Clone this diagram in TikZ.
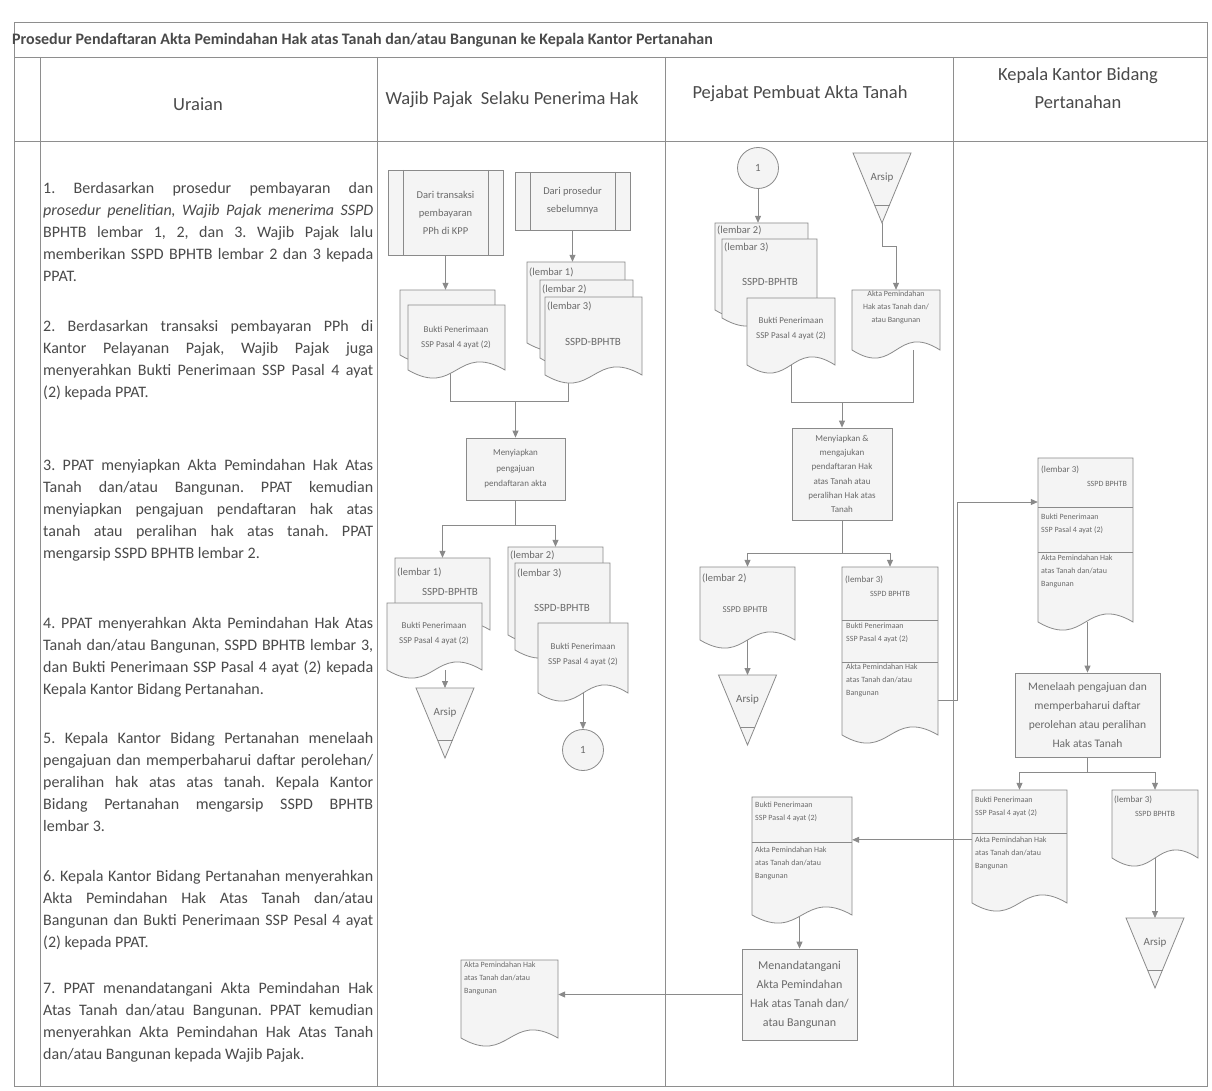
\documentclass[tikz,border=0pt]{standalone}
\usepackage{fontspec}
\setmainfont{Carlito}
\usetikzlibrary{arrows.meta,fit,calc}
\pgfdeclarelayer{bg}
\pgfsetlayers{bg,main}

\definecolor{ink}{HTML}{4A4A4A}
\definecolor{lite}{HTML}{6A6A6A}
\definecolor{edge}{HTML}{8A8A8A}
\definecolor{paper}{HTML}{F4F4F4}
\definecolor{rule}{HTML}{8E8E8E}

\tikzset{
  shp/.style={draw=edge, fill=paper, line width=0.8pt},
  ln/.style={draw=edge, line width=0.8pt},
  arr/.style={ln, -{Triangle[length=7pt,width=6pt]}},
  grid/.style={draw=rule, line width=0.9pt},
  proc/.style={shp, rectangle, inner sep=2pt, align=center, text=lite},
  predef/.style={proc, path picture={
      \draw[draw=edge, line width=0.8pt]
        ([xshift=15pt]path picture bounding box.north west) -- ([xshift=15pt]path picture bounding box.south west)
        ([xshift=-15pt]path picture bounding box.north east) -- ([xshift=-15pt]path picture bounding box.south east);}},
  conn/.style={shp, circle, minimum size=41pt, inner sep=0pt, text=lite, font=\fontsize{11}{13}\selectfont},
  para/.style={anchor=north west, inner sep=0pt, text width=330pt, align=justify, text=ink,
      font=\fontsize{16}{22}\selectfont\frenchspacing},
  head/.style={text=ink, inner sep=0pt, align=center, font=\fontsize{18.5}{28}\selectfont},
  small/.style={text=lite, inner sep=0pt, align=center, font=\fontsize{9}{15}\selectfont},
  mid/.style={text=lite, inner sep=0pt, font=\fontsize{11}{13}\selectfont},
  tiny/.style={text=lite, inner sep=0pt, align=left, font=\fontsize{8}{13}\selectfont},
  lab/.style={text=lite, inner sep=0pt, anchor=west, font=\fontsize{10.5}{12}\selectfont},
  slab/.style={lab, font=\fontsize{9}{11}\selectfont},
}

% document sheet with a wavy lower edge: name, x1, y1, x2, y(bottom)
\newcommand\docu[5]{%
  \filldraw[shp] (#2,#3) -- (#4,#3) -- (#4,#5)
    .. controls ({(#2+#4)/2},{#5-28}) and ({(#2+#4)/2},{#5+28}) .. (#2,#5) -- cycle;
  \coordinate (#1-nw) at (#2,#3);
  \coordinate (#1-se) at (#4,#5);
  \node[fit=(#1-nw)(#1-se), inner sep=0pt] (#1) {};
}
% divider line inside a sheet: sheet name, y
\newcommand\sect[2]{\draw[ln] (#1.west |- 0,#2) -- (#1.east |- 0,#2);}
% archive (off-line storage) triangle: name, centre x, top y
\newcommand\arsip[3]{%
  \filldraw[shp] ({#2-29},#3) -- ({#2+29},#3) -- (#2,{#3+70}) -- cycle;
  \draw[ln] ({#2-7.5},{#3+52}) -- ({#2+7.5},{#3+52});
  \coordinate (#1-top) at (#2,#3);
  \coordinate (#1-tip) at (#2,{#3+70});
  \node[mid] (#1) at (#2,{#3+25}) {Arsip};
}

\begin{document}
\begin{tikzpicture}[x=1pt,y=-1pt]
\useasboundingbox (0,0) rectangle (1212,1091);

% ---------- table frame ----------
\begin{pgfonlayer}{bg}
  \fill[white] (0,0) rectangle (1212,1091);
  \draw[grid] (14,22) rectangle (1207,1086);
  \draw[grid] (14,57) -- (1207,57);
  \draw[grid] (14,141) -- (1207,141);
  \draw[grid] (40,57) -- (40,1086);
  \foreach \cx in {377,665,953} \draw[grid] (\cx,57) -- (\cx,1086);
\end{pgfonlayer}

\node[anchor=west, inner sep=0pt, text=ink, font=\fontsize{16}{18}\selectfont\bfseries] (title) at (12,40)
  {Prosedur Pendaftaran Akta Pemindahan Hak atas Tanah dan/atau Bangunan ke Kepala Kantor Pertanahan};

\node[head] (h1) at (198,104) {Uraian};
\node[head] (h2) at (512,100) {Wajib Pajak\ \ Selaku Penerima Hak};
\node[head] (h3) at (800,94) {Pejabat Pembuat Akta Tanah};
\node[head] (h4) at (1078,88) {Kepala Kantor Bidang\\Pertanahan};

% ---------- description column ----------
\node[para] (u1) at (43,182) {1. Berdasarkan prosedur pembayaran dan\linebreak
  \textit{prosedur penelitian, Wajib Pajak menerima SSPD}\linebreak
  BPHTB lembar 1, 2, dan 3. Wajib Pajak lalu\linebreak
  memberikan SSPD BPHTB lembar 2 dan 3 kepada\linebreak PPAT.};
\node[para] (u2) at (43,320) {2. Berdasarkan transaksi pembayaran PPh di\linebreak
  Kantor Pelayanan Pajak, Wajib Pajak juga\linebreak
  menyerahkan Bukti Penerimaan SSP Pasal 4 ayat\linebreak (2) kepada PPAT.};
\node[para] (u3) at (43,459) {3. PPAT menyiapkan Akta Pemindahan Hak Atas\linebreak
  Tanah dan/atau Bangunan. PPAT kemudian\linebreak
  menyiapkan pengajuan pendaftaran hak atas\linebreak
  tanah atau peralihan hak atas tanah. PPAT\linebreak
  mengarsip SSPD BPHTB lembar 2.};
\node[para] (u4) at (43,617) {4. PPAT menyerahkan Akta Pemindahan Hak Atas\linebreak
  Tanah dan/atau Bangunan, SSPD BPHTB lembar 3,\linebreak
  dan Bukti Penerimaan SSP Pasal 4 ayat (2) kepada\linebreak
  Kepala Kantor Bidang Pertanahan.};
\node[para] (u5) at (43,732) {5. Kepala Kantor Bidang Pertanahan menelaah\linebreak
  pengajuan dan memperbaharui daftar perolehan/\linebreak
  peralihan hak atas atas tanah. Kepala Kantor\linebreak
  Bidang Pertanahan mengarsip SSPD BPHTB\linebreak lembar 3.};
\node[para] (u6) at (43,870) {6. Kepala Kantor Bidang Pertanahan menyerahkan\linebreak
  Akta Pemindahan Hak Atas Tanah dan/atau\linebreak
  Bangunan dan Bukti Penerimaan SSP Pesal 4 ayat\linebreak (2) kepada PPAT.};
\node[para] (u7) at (43,982) {7. PPAT menandatangani Akta Pemindahan Hak\linebreak
  Atas Tanah dan/atau Bangunan. PPAT kemudian\linebreak
  menyerahkan Akta Pemindahan Hak Atas Tanah\linebreak
  dan/atau Bangunan kepada Wajib Pajak.};

% ---------- Wajib Pajak ----------
\node[predef, minimum width=115pt, minimum height=85pt, font=\fontsize{10.5}{18}\selectfont] (pA) at (445.5,212.5)
  {Dari transaksi\\pembayaran\\PPh di KPP};
\node[predef, minimum width=115pt, minimum height=58pt, font=\fontsize{10.5}{18}\selectfont] (pB) at (572.5,201)
  {Dari prosedur\\sebelumnya};

\docu{dAb}{400}{290}{495}{355}
\docu{dAf}{408}{305}{505}{370}
\node[small] (tAf) at (456,338) {Bukti Penerimaan\\SSP Pasal 4 ayat (2)};

\docu{dB1}{527}{262}{625}{343}
\node[lab] (tB1) at (529,272) {(lembar 1)};
\docu{dB2}{540}{280}{633}{358}
\node[lab] (tB2) at (542,289) {(lembar 2)};
\docu{dB3}{545}{297}{642}{375}
\node[lab] (tB3) at (547,306) {(lembar 3)};
\node[mid] (tB) at (593,342) {SSPD-BPHTB};

\node[proc, minimum width=99pt, minimum height=62pt, font=\fontsize{9}{15.5}\selectfont] (pr1) at (515.5,469)
  {Menyiapkan\\pengajuan\\pendaftaran akta};

\docu{dCb}{395}{558}{490}{630}
\node[lab] (tC1) at (397,572) {(lembar 1)};
\node[mid] (tCb) at (450,592) {SSPD-BPHTB};
\docu{dCf}{387}{603}{482}{670}
\node[small] (tCf) at (434,634) {Bukti Penerimaan\\SSP Pasal 4 ayat (2)};
\arsip{aC}{445}{688}

\docu{dD1}{508}{547}{603}{635}
\node[lab] (tD1) at (510,555) {(lembar 2)};
\docu{dD2}{515}{563}{610}{650}
\node[lab] (tD2) at (517,573) {(lembar 3)};
\node[mid] (tD) at (562,608) {SSPD-BPHTB};
\docu{dDf}{538}{623}{628}{693}
\node[small] (tDf) at (583,655) {Bukti Penerimaan\\SSP Pasal 4 ayat (2)};
\node[conn] (c2) at (583,750) {1};

\docu{dJ}{461}{960}{558}{1038}
\node[tiny, anchor=north west] (tJ) at (464,962) {Akta Pemindahan Hak\\atas Tanah dan/atau\\Bangunan};

% ---------- PPAT ----------
\node[conn] (c1) at (758,168) {1};
\arsip{aE}{882}{153}

\docu{dE1}{715}{223}{808}{310}
\node[lab] (tE1) at (717,230) {(lembar 2)};
\docu{dE2}{722}{239}{817}{318}
\node[lab] (tE2) at (724,247) {(lembar 3)};
\node[mid] (tE) at (770,282) {SSPD-BPHTB};
\docu{dEf}{747}{298}{835}{365}
\node[small] (tEf) at (791,329) {Bukti Penerimaan\\SSP Pasal 4 ayat (2)};

\docu{dF}{852}{290}{940}{350}
\node[tiny, align=center] (tF) at (896,307) {Akta Pemindahan\\Hak atas Tanah dan/\\atau Bangunan};

\node[proc, minimum width=100pt, minimum height=92pt, font=\fontsize{9}{14.2}\selectfont] (pr2) at (842,474)
  {Menyiapkan \&\\mengajukan\\pendaftaran Hak\\atas Tanah atau\\peralihan Hak atas\\Tanah};

\docu{dG}{700}{567}{795}{640}
\node[lab] (tG1) at (702,578) {(lembar 2)};
\node[small] (tG) at (745,610) {SSPD BPHTB};
\arsip{aG}{747.5}{675}

\docu{dH}{842}{567}{938}{735}
\sect{dH}{620}
\sect{dH}{662}
\node[slab] (tH1) at (845,580) {(lembar 3)};
\node[tiny] (tH0) at (890,594) {SSPD BPHTB};
\node[tiny, anchor=north west] (tH2) at (846,623) {Bukti Penerimaan\\SSP Pasal 4 ayat (2)};
\node[tiny, anchor=north west] (tH3) at (846,664) {Akta Pemindahan Hak\\atas Tanah dan/atau\\Bangunan};

\docu{dI}{752}{797}{852}{915}
\sect{dI}{842}
\node[tiny, anchor=north west] (tI1) at (755,802) {Bukti Penerimaan\\SSP Pasal 4 ayat (2)};
\node[tiny, anchor=north west] (tI2) at (755,847) {Akta Pemindahan Hak\\atas Tanah dan/atau\\Bangunan};

\node[proc, minimum width=115pt, minimum height=91pt, font=\fontsize{12}{19}\selectfont] (pr3) at (799.5,994.5)
  {Menandatangani\\Akta Pemindahan\\Hak atas Tanah dan/\\atau Bangunan};

% ---------- Kepala Kantor Bidang Pertanahan ----------
\docu{dK}{1038}{458}{1133}{622}
\sect{dK}{507}
\sect{dK}{552}
\node[slab] (tK1) at (1041,470) {(lembar 3)};
\node[tiny] (tK0) at (1107,484) {SSPD BPHTB};
\node[tiny, anchor=north west] (tK2) at (1041,514) {Bukti Penerimaan\\SSP Pasal 4 ayat (2)};
\node[tiny, anchor=north west] (tK3) at (1041,555) {Akta Pemindahan Hak\\atas Tanah dan/atau\\Bangunan};

\node[proc, minimum width=145pt, minimum height=84pt, font=\fontsize{11.5}{19}\selectfont] (pr4) at (1087.5,715)
  {Menelaah pengajuan dan\\memperbaharui daftar\\perolehan atau peralihan\\Hak atas Tanah};

\docu{dL}{972}{790}{1067}{903}
\sect{dL}{833}
\node[tiny, anchor=north west] (tL1) at (975,797) {Bukti Penerimaan\\SSP Pasal 4 ayat (2)};
\node[tiny, anchor=north west] (tL2) at (975,837) {Akta Pemindahan Hak\\atas Tanah dan/atau\\Bangunan};

\docu{dM}{1112}{790}{1198}{858}
\node[slab] (tM1) at (1114,800) {(lembar 3)};
\node[tiny] (tM0) at (1155,814) {SSPD BPHTB};
\arsip{aM}{1155}{918}

% ---------- connectors ----------
\begin{pgfonlayer}{bg}
  % Wajib Pajak
  \draw[arr] (pA.south) -- (pA.south |- dAb.north);
  \draw[arr] (pB.south) -- (pB.south |- dB1.north);
  \coordinate (m1) at ($(pr1.north)+(0,-36)$);
  \coordinate (eA) at ($(dAf.south west)!0.44!(dAf.south east)$);
  \coordinate (eB) at ($(dB3.south west)!0.24!(dB3.south east)$);
  \draw[ln] (eA) |- (m1) -| (eB);
  \draw[arr] (m1) -- (pr1.north);
  \coordinate (b1) at ($(pr1.south)+(0,25)$);
  \draw[ln] (pr1.south) -- (b1);
  \draw[arr] (b1) -| (dCb.north);
  \draw[arr] (b1) -| (dD1.north);
  \draw[arr] (aC-top |- dCf.south) -- (aC-top);
  \draw[arr] (dDf.south) -- (c2.north);
  % PPAT
  \draw[arr] (c1.south) -- (c1.south |- dE1.north);
  \draw[arr] (aE-tip) -- ++(0,23) -| (dF.north);
  \coordinate (m2) at ($(pr2.north)+(0,-25)$);
  \coordinate (eF) at ($(dF.south west)!0.7!(dF.south east)$);
  \draw[ln] (dEf.south) |- (m2) -| (eF);
  \draw[arr] (m2) -- (pr2.north);
  \coordinate (b2) at ($(pr2.south)+(0,33)$);
  \draw[ln] (pr2.south) -- (b2);
  \draw[arr] (b2) -| (dG.north);
  \draw[arr] (b2) -| (dH.north);
  \draw[arr] (dG.south) -- (aG-top);
  \coordinate (hOut) at ($(dH.east)+(0,49)$);
  \coordinate (via1) at ($(dK.west)+(-80,-38)$);
  \draw[arr] (hOut) -| (via1) -- (via1 -| dK.west);
  % Kepala Kantor
  \draw[arr] (pr4.north |- dK.south) -- (pr4.north);
  \coordinate (b4) at ($(pr4.south)+(0,15)$);
  \draw[ln] (pr4.south) -- (b4);
  \draw[arr] (b4) -| (dL.north);
  \draw[arr] (b4) -| (dM.north);
  \draw[arr] (dM.south) -- (aM-top);
  \coordinate (lIn) at ($(dL.north west)+(0,50)$);
  \draw[arr] (lIn) -- (lIn -| dI.east);
  \draw[arr] (pr3.north |- dI.south) -- (pr3.north);
  \draw[arr] (pr3.west) -- (pr3.west -| dJ.east);
\end{pgfonlayer}
\end{tikzpicture}
\end{document}
